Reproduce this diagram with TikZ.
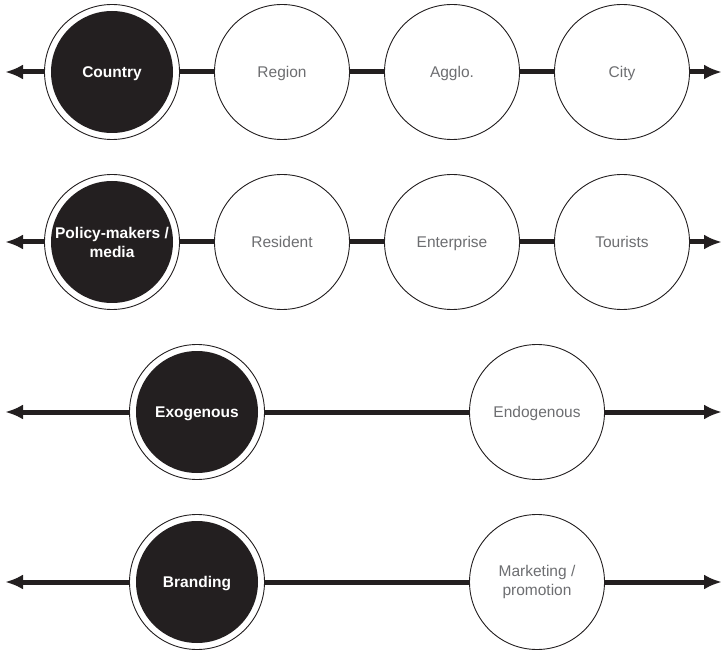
\documentclass[tikz,border=0pt]{standalone}
\usepackage{fontspec}
\setmainfont{Liberation Sans}
\usetikzlibrary{arrows.meta}

\begin{document}
\begin{tikzpicture}[x=1pt,y=1pt]
	\definecolor{nodeblack}{HTML}{231F20}
	\definecolor{textgrey}{HTML}{6D6E71}
	\tikzstyle{lightstate} = [circle,draw=nodeblack,line width=0.9pt,fill=white,minimum size=135pt,inner sep=0pt,align=center,text=textgrey,font=\fontsize{15.5}{19}\selectfont,text height=11.1pt,text depth=0pt]
	\tikzstyle{darkstate} = [lightstate,text=white,font=\fontsize{15.5}{19}\selectfont\bfseries,path picture={\fill[nodeblack] (path picture bounding box.center) circle (61pt);}]
	\tikzstyle{twolines} = [text height=,text depth=]
	\tikzstyle{link} = [line width=5pt,draw=nodeblack]
	\tikzstyle{outlink} = [link,-{Latex[length=18pt,width=15pt]}]

	\def\incx{170}
	\def\incy{170}
	\def\offx{112}
	\def\offy{72}
	\useasboundingbox (0,0) rectangle (725,654);

	% NODES %
	\node[darkstate] (country) at (\offx+0*\incx,\offy+3*\incy) {Country};
	\node[lightstate] (region) at (\offx+1*\incx,\offy+3*\incy) {Region};
	\node[lightstate] (agglo) at (\offx+2*\incx,\offy+3*\incy) {Agglo.};
	\node[lightstate] (city) at (\offx+3*\incx,\offy+3*\incy) {City};

	\node[darkstate,twolines] (policy) at (\offx+0*\incx,\offy+2*\incy) {Policy-makers /\\media};
	\node[lightstate] (resident) at (\offx+1*\incx,\offy+2*\incy) {Resident};
	\node[lightstate] (enterprise) at (\offx+2*\incx,\offy+2*\incy) {Enterprise};
	\node[lightstate] (tourists) at (\offx+3*\incx,\offy+2*\incy) {Tourists};

	\node[darkstate] (exo) at (\offx+0.5*\incx,\offy+1*\incy) {Exogenous};
	\node[lightstate] (endo) at (\offx+2.5*\incx,\offy+1*\incy) {Endogenous};

	\node[darkstate] (branding) at (\offx+0.5*\incx,\offy+0*\incy) {Branding};
	\node[lightstate,twolines] (marketing) at (\offx+2.5*\incx,\offy+0*\incy) {Marketing /\\promotion};

	% ARROW ENDS %
	\foreach \j in {0,...,3}{
		\coordinate (west\j) at (5,\offy+\j*\incy);
		\coordinate (east\j) at (722,\offy+\j*\incy);
	}

	% EDGES %
	%scale
	\draw[outlink] (country) -- (west3);
	\draw[link] (country) -- (region);
	\draw[link] (region) -- (agglo);
	\draw[link] (agglo) -- (city);
	\draw[outlink] (city) -- (east3);
	%actors
	\draw[outlink] (policy) -- (west2);
	\draw[link] (policy) -- (resident);
	\draw[link] (resident) -- (enterprise);
	\draw[link] (enterprise) -- (tourists);
	\draw[outlink] (tourists) -- (east2);
	%origin
	\draw[outlink] (exo) -- (west1);
	\draw[link] (exo) -- (endo);
	\draw[outlink] (endo) -- (east1);
	%approach
	\draw[outlink] (branding) -- (west0);
	\draw[link] (branding) -- (marketing);
	\draw[outlink] (marketing) -- (east0);
\end{tikzpicture}
\end{document}
